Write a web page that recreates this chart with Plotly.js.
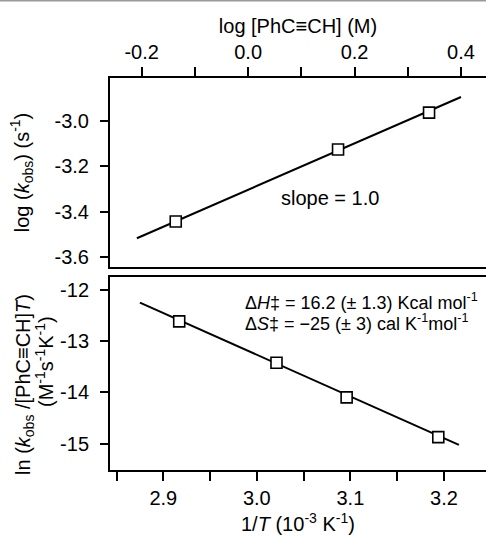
<!DOCTYPE html>
<html>
<head>
<meta charset="utf-8">
<script src="https://cdn.plot.ly/plotly-3.0.1.min.js"></script>
<style>html,body{margin:0;padding:0;background:#fff;}#chart{width:486px;height:536px;}</style>
</head>
<body>
<div id="chart"></div>
<script>
// Top panel: log kobs vs log [PhC≡CH]
const logConc = [-0.136, 0.169, 0.340];
const logKobs = [-3.444, -3.126, -2.963];
const fitLogConc = [-0.209, 0.400];
const fitLogKobs = [-3.518, -2.894];

// Bottom panel: Eyring plot
const invT = [2.917, 3.021, 3.096, 3.194];
const lnK = [-12.618, -13.423, -14.097, -14.870];
const fitInvT = [2.875, 3.216];
const fitLnK = [-12.253, -15.020];

// Tick labels
const topXTicks = [-0.2, 0.0, 0.2, 0.4];
const topXTickText = ['-0.2', '0.0', '0.2', '0.4'];
const topXMinor = [-0.1, 0.1, 0.3];
const topYTicks = [-3.6, -3.4, -3.2, -3.0];
const topYTickText = ['-3.6', '-3.4', '-3.2', '-3.0'];
const botXTicks = [2.9, 3.0, 3.1, 3.2];
const botXTickText = ['2.9', '3.0', '3.1', '3.2'];
const botXMinor = [2.85, 2.95, 3.05, 3.15];
const botYTicks = [-15, -14, -13, -12];
const botYTickText = ['-15', '-14', '-13', '-12'];

const FONT = '"Liberation Sans", Arial, Helvetica, sans-serif';

const markerStyle = {symbol: 'square', size: 11, color: 'white', line: {color: 'black', width: 1.6}};
const lineStyle = {color: 'black', width: 2};

const traces = [
  {x: fitLogConc, y: fitLogKobs, xaxis: 'x', yaxis: 'y', mode: 'lines', line: lineStyle, hoverinfo: 'skip'},
  {x: logConc, y: logKobs, xaxis: 'x', yaxis: 'y', mode: 'markers', marker: markerStyle},
  {x: fitInvT, y: fitLnK, xaxis: 'x2', yaxis: 'y2', mode: 'lines', line: lineStyle, hoverinfo: 'skip'},
  {x: invT, y: lnK, xaxis: 'x2', yaxis: 'y2', mode: 'markers', marker: markerStyle}
];

const axisCommon = {
  showline: true, linewidth: 2, linecolor: 'black',
  ticks: 'outside', ticklen: 9, tickwidth: 2, tickcolor: 'black',
  showgrid: false, zeroline: false,
  tickfont: {family: FONT, size: 20, color: 'black'},
  tickmode: 'array'
};

const titleFont = {family: FONT, size: 20, color: 'black'};

const layout = {
  width: 486, height: 536,
  margin: {l: 110, r: 0, t: 0, b: 0},
  paper_bgcolor: 'white', plot_bgcolor: 'white',
  showlegend: false,
  font: {family: FONT, color: 'black'},
  xaxis: Object.assign({}, axisCommon, {
    domain: [0, 1], anchor: 'y', side: 'top', mirror: true,
    range: [-0.2595, 0.447],
    tickvals: topXTicks, ticktext: topXTickText,
    minor: {tickmode: 'array', tickvals: topXMinor, ticks: 'outside', ticklen: 9, tickwidth: 2, tickcolor: 'black', showgrid: false},
    title: {text: 'log [PhC≡CH] (M)', font: titleFont, standoff: 2}
  }),
  yaxis: Object.assign({}, axisCommon, {
    domain: [0.5019, 0.8545], anchor: 'x',
    range: [-3.645, -2.81], ticklen: 8, ticklabelstandoff: 7,
    tickvals: topYTicks, ticktext: topYTickText,
    title: {text: 'log (<i>k</i><sub>obs</sub>) (s<sup>-1</sup>)', font: titleFont, standoff: 20}
  }),
  xaxis2: Object.assign({}, axisCommon, {
    domain: [0, 1], anchor: 'y2', side: 'bottom', mirror: true,
    range: [2.843, 3.245],
    tickvals: botXTicks, ticktext: botXTickText,
    minor: {tickmode: 'array', tickvals: botXMinor, ticks: 'outside', ticklen: 9, tickwidth: 2, tickcolor: 'black', showgrid: false}
  }),
  yaxis2: Object.assign({}, axisCommon, {
    domain: [0.1231, 0.4832], anchor: 'x2',
    range: [-15.51, -11.754], ticklen: 8, ticklabelstandoff: 7,
    tickvals: botYTicks, ticktext: botYTickText
  }),
  annotations: [
    {xref: 'x', yref: 'y', x: 0.1536, y: -3.341, text: 'slope = 1.0', showarrow: false,
     font: {family: FONT, size: 20, color: 'black'}, xanchor: 'center', yanchor: 'middle'},
    {xref: 'x2', yref: 'y2', x: 2.985, y: -12.232, text: 'Δ<i>H</i>‡ = 16.2 (± 1.3) Kcal mol<sup>-1</sup>', showarrow: false,
     font: {family: FONT, size: 18, color: 'black'}, xanchor: 'left', yanchor: 'middle'},
    {xref: 'x2', yref: 'y2', x: 2.985, y: -12.642, text: 'Δ<i>S</i>‡ = −25 (± 3) cal K<sup>-1</sup>mol<sup>-1</sup>', showarrow: false,
     font: {family: FONT, size: 18, color: 'black'}, xanchor: 'left', yanchor: 'middle'},
    // bottom y-axis title (two lines)
    {xref: 'paper', yref: 'paper', x: -0.2261, y: 0.2836, textangle: -90, showarrow: false,
     text: 'ln (<i>k</i><sub>obs</sub> /[PhC≡CH]<i>T</i>)', font: titleFont, xanchor: 'center', yanchor: 'middle'},
    {xref: 'paper', yref: 'paper', x: -0.1729, y: 0.3265, textangle: -90, showarrow: false,
     text: '(M<sup>-1</sup>s<sup>-1</sup>K<sup>-1</sup>)', font: titleFont, xanchor: 'center', yanchor: 'middle'},
    // bottom x-axis title
    {xref: 'paper', yref: 'paper', x: 0.5, y: 0.0245, showarrow: false,
     text: '1/<i>T</i> (10<sup>-3</sup> K<sup>-1</sup>)', font: titleFont, xanchor: 'center', yanchor: 'middle'}
  ],
  shapes: [
    {type: 'line', xref: 'paper', yref: 'paper', x0: -0.3, x1: 1.0, y0: 1, y1: 1, line: {color: '#999', width: 3}}
  ]
};

Plotly.newPlot('chart', traces, layout, {staticPlot: true, displayModeBar: false});
</script>
</body>
</html>
